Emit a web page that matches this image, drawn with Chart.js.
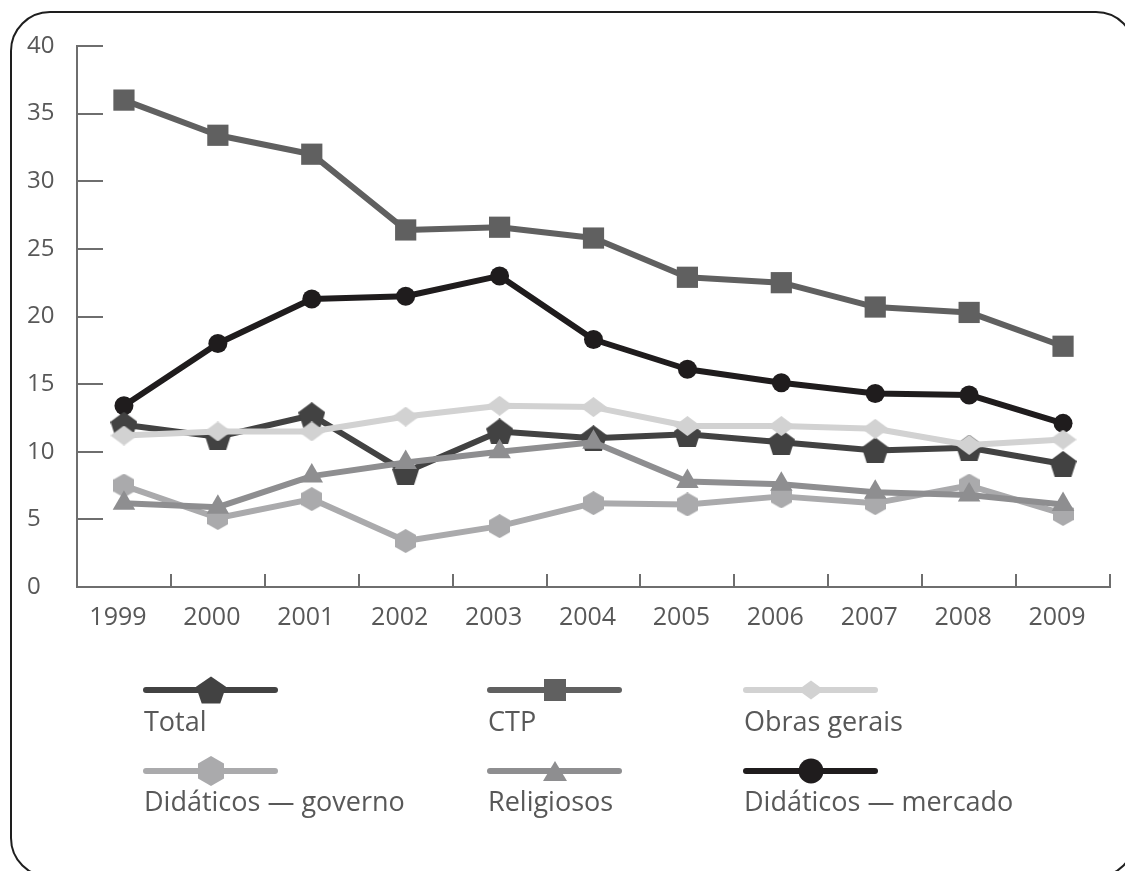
<!DOCTYPE html>
<html>
<head>
<meta charset="utf-8">
<script src="https://cdn.jsdelivr.net/npm/chart.js@4.4.1/dist/chart.umd.min.js"></script>
<style>
  html, body { margin: 0; padding: 0; background: #fff; overflow: hidden; }
  #wrap { position: relative; width: 1125px; height: 871px; overflow: hidden; }
  #chart { position: absolute; left: 0; top: 0; }
  #frame {
    position: absolute; left: 10px; top: 11px; width: 1126px; height: 867px;
    border: 2px solid #1e1e1e; border-radius: 40px; box-sizing: border-box; pointer-events: none;
  }
</style>
</head>
<body>
<div id="wrap">
  <canvas id="chart" width="1125" height="871"></canvas>
  <div id="frame"></div>
</div>
<script>
const years = ['1999', '2000', '2001', '2002', '2003', '2004', '2005', '2006', '2007', '2008', '2009'];
const yTicks = [0, 5, 10, 15, 20, 25, 30, 35, 40];

const total      = [12.0, 11.1, 12.7, 8.5, 11.5, 11.0, 11.3, 10.7, 10.1, 10.3, 9.1];
const ctp        = [36.0, 33.4, 32.0, 26.4, 26.6, 25.8, 22.9, 22.5, 20.7, 20.3, 17.8];
const obras      = [11.2, 11.5, 11.5, 12.6, 13.4, 13.3, 11.9, 11.9, 11.7, 10.5, 10.9];
const governo    = [7.5, 5.1, 6.5, 3.4, 4.5, 6.2, 6.1, 6.7, 6.2, 7.5, 5.4];
const religiosos = [6.2, 5.9, 8.2, 9.2, 10.0, 10.7, 7.8, 7.6, 7.0, 6.8, 6.1];
const mercado    = [13.4, 18.0, 21.3, 21.5, 23.0, 18.3, 16.1, 15.1, 14.3, 14.2, 12.1];

const axisColor = '#6e6e6e';
const textColor = '#585858';

// marker outlines shared by the plot and the legend, fitted to a w x h box
function shapePath(ctx, kind, cx, cy, w, h) {
  ctx.beginPath();
  if (kind === 'pentagon') {
    for (let i = 0; i < 5; i++) {
      const a = -Math.PI / 2 + i * 2 * Math.PI / 5;
      const px = cx + Math.cos(a) / Math.cos(Math.PI / 10) * w / 2;
      const py = cy - h / 2 + (Math.sin(a) + 1) / (1 + Math.cos(Math.PI / 5)) * h;
      i ? ctx.lineTo(px, py) : ctx.moveTo(px, py);
    }
  } else if (kind === 'hexagon') {
    for (let i = 0; i < 6; i++) {
      const a = -Math.PI / 2 + i * Math.PI / 3;
      const px = cx + Math.cos(a) / Math.cos(Math.PI / 6) * w / 2;
      const py = cy + Math.sin(a) * h / 2;
      i ? ctx.lineTo(px, py) : ctx.moveTo(px, py);
    }
  } else if (kind === 'diamond') {
    ctx.moveTo(cx, cy - h / 2); ctx.lineTo(cx + w / 2, cy);
    ctx.lineTo(cx, cy + h / 2); ctx.lineTo(cx - w / 2, cy);
  } else if (kind === 'square') {
    ctx.rect(cx - w / 2, cy - h / 2, w, h);
  } else if (kind === 'triangle') {
    ctx.moveTo(cx, cy - h / 2); ctx.lineTo(cx + w / 2, cy + h / 2); ctx.lineTo(cx - w / 2, cy + h / 2);
  } else {
    ctx.ellipse(cx, cy, w / 2, h / 2, 0, 0, Math.PI * 2);
  }
  ctx.closePath();
}

function markerImage(kind, w, h, color) {
  const c = document.createElement('canvas');
  c.width = w; c.height = h;
  const g = c.getContext('2d');
  g.fillStyle = color;
  shapePath(g, kind, w / 2, h / 2, w, h);
  g.fill();
  return c;
}

function series(label, data, color, marker, pointStyle, radius, order) {
  return {
    label, data, marker, order,
    borderColor: color,
    backgroundColor: color,
    borderWidth: 6,
    borderJoinStyle: 'round',
    borderCapStyle: 'round',
    pointStyle,
    pointRadius: radius,
    pointBackgroundColor: color,
    pointBorderWidth: 0,
    tension: 0
  };
}

const datasets = [
  series('Total', total, '#424242', 'pentagon', markerImage('pentagon', 27, 26, '#424242'), 13, 3),
  series('CTP', ctp, '#606060', 'square', 'rect', 15, 4),
  series('Obras gerais', obras, '#d2d2d2', 'diamond', markerImage('diamond', 27, 20, '#d2d2d2'), 13, 2),
  series('Didáticos — governo', governo, '#aaaaac', 'hexagon', markerImage('hexagon', 21, 24, '#aaaaac'), 12, 1),
  series('Religiosos', religiosos, '#8e8e90', 'triangle', 'triangle', 13, 0),
  series('Didáticos — mercado', mercado, '#1f1c1d', 'circle', 'circle', 9.5, 5)
];

// legend grid: three columns, line sample above its label
const legendCols = [143, 487, 743];
const legendRows = [{ line: 690, text: 731 }, { line: 771, text: 811 }];
const legendMarkers = {
  pentagon: [30, 27], square: [22, 22], diamond: [26, 19],
  hexagon: [26, 30], triangle: [24, 20], circle: [25, 25]
};

const bottomLegend = {
  id: 'bottomLegend',
  afterDraw(chart) {
    const ctx = chart.ctx;
    chart.data.datasets.forEach((ds, i) => {
      const x = legendCols[i % 3];
      const row = legendRows[Math.floor(i / 3)];
      ctx.save();
      ctx.strokeStyle = ds.borderColor;
      ctx.lineWidth = 6;
      ctx.lineCap = 'round';
      ctx.beginPath();
      ctx.moveTo(x + 3, row.line);
      ctx.lineTo(x + 132, row.line);
      ctx.stroke();
      const [mw, mh] = legendMarkers[ds.marker];
      ctx.fillStyle = ds.borderColor;
      shapePath(ctx, ds.marker, x + 68, row.line, mw, mh);
      ctx.fill();
      ctx.fillStyle = textColor;
      ctx.font = '27px "Open Sans"';
      ctx.textBaseline = 'alphabetic';
      ctx.fillText(ds.label, x + 1, row.text);
      ctx.restore();
    });
  }
};

// tick marks point into the plot area on both axes
const innerTicks = {
  id: 'innerTicks',
  beforeDatasetsDraw(chart) {
    const { ctx, scales: { x, y } } = chart;
    ctx.save();
    ctx.strokeStyle = axisColor;
    ctx.lineWidth = 2;
    ctx.beginPath();
    yTicks.forEach(v => {
      const py = Math.round(y.getPixelForValue(v));
      ctx.moveTo(y.right, py);
      ctx.lineTo(y.right + 26, py);
    });
    for (let i = 1; i <= years.length; i++) {
      const px = Math.round(x.getPixelForValue(i - 0.5));
      ctx.moveTo(px, x.top);
      ctx.lineTo(px, x.top - 13);
    }
    ctx.stroke();
    ctx.restore();
  }
};

new Chart(document.getElementById('chart'), {
  type: 'line',
  data: { labels: years, datasets },
  options: {
    responsive: false,
    animation: false,
    devicePixelRatio: 1,
    events: [],
    layout: { padding: { left: 27, right: 8, top: 46, bottom: 234 } },
    plugins: { legend: { display: false }, tooltip: { enabled: false } },
    scales: {
      x: {
        offset: true,
        grid: { display: false, offset: true },
        border: { color: axisColor, width: 2 },
        ticks: {
          color: textColor,
          font: { family: 'Open Sans', size: 25 },
          padding: 8,
          labelOffset: -6,
          maxRotation: 0,
          autoSkip: false
        },
        afterFit(scale) { scale.height = 50; }
      },
      y: {
        min: 0,
        max: 40,
        grid: { display: false },
        border: { color: axisColor, width: 2 },
        afterBuildTicks(scale) { scale.ticks = yTicks.map(v => ({ value: v })); },
        ticks: {
          color: textColor,
          font: { family: 'Open Sans', size: 24 },
          crossAlign: 'far',
          padding: 0
        },
        afterFit(scale) { scale.width = 50; }
      }
    }
  },
  plugins: [innerTicks, bottomLegend]
});
</script>
</body>
</html>
